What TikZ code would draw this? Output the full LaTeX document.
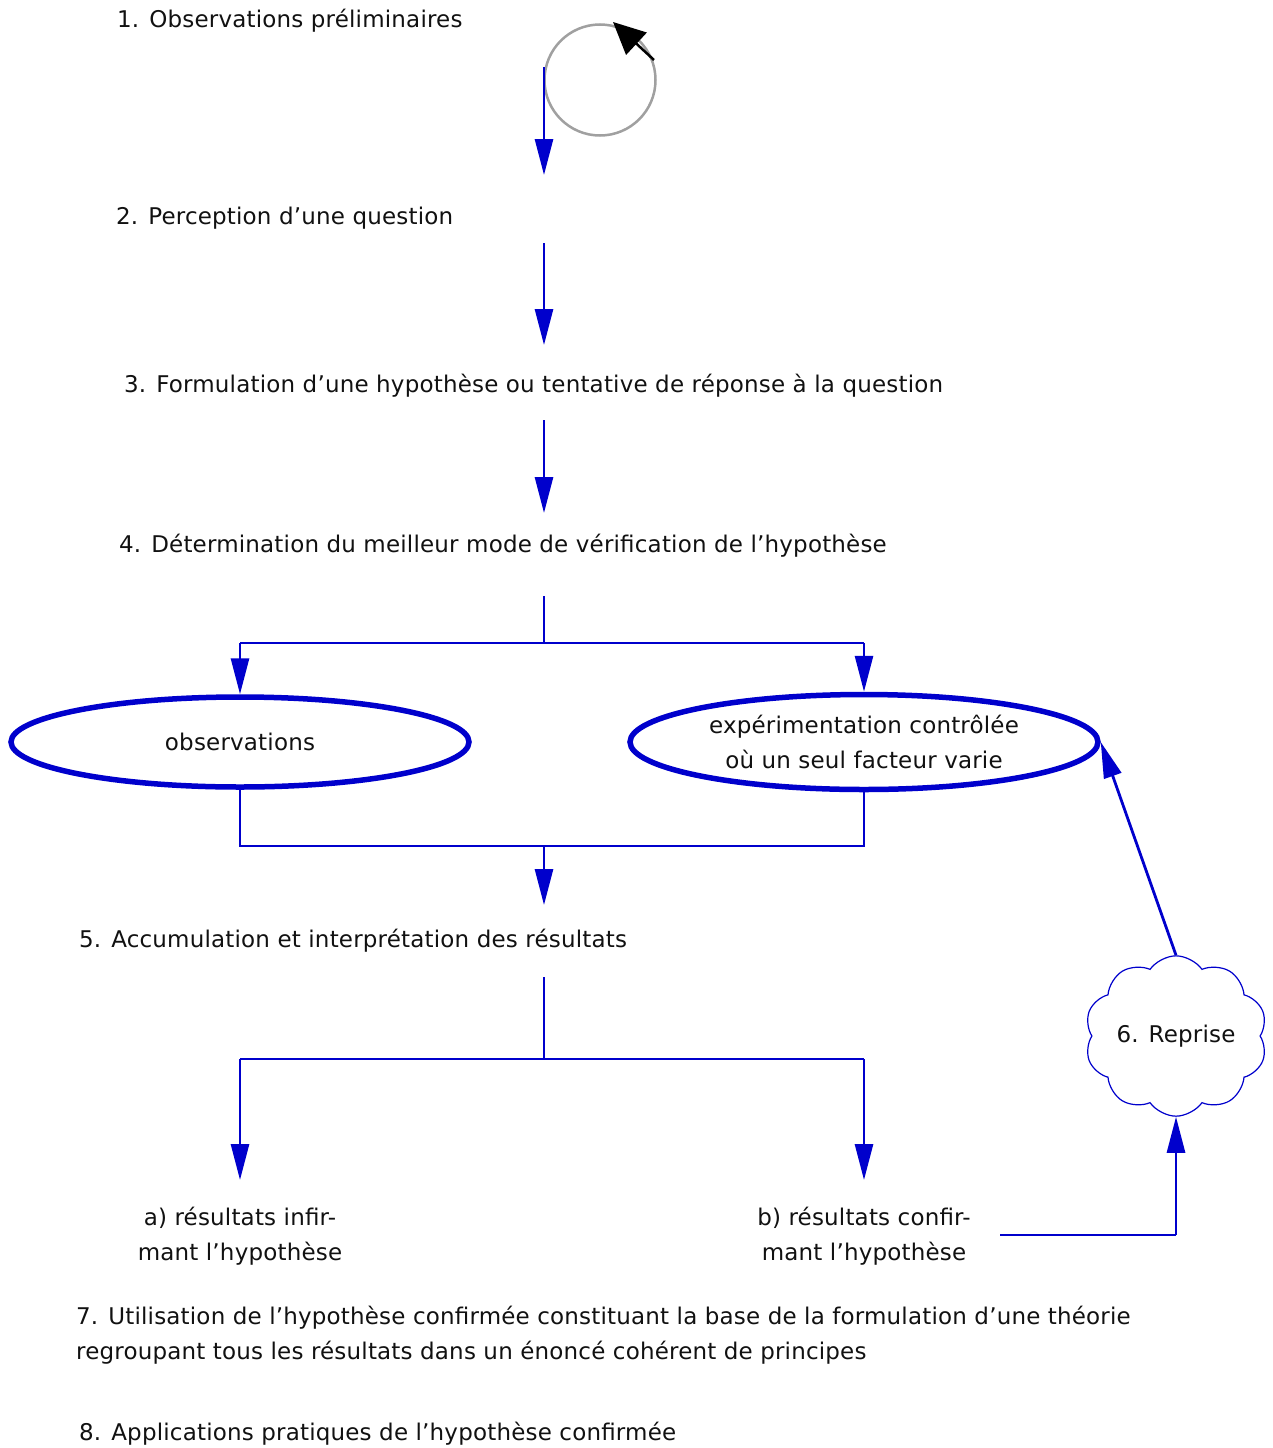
\documentclass[tikz,border=0pt]{standalone}
\usepackage{fontspec}
\setmainfont[LetterSpace=0.8]{DejaVu Sans}
\usetikzlibrary{arrows.meta,shapes.geometric,shapes.symbols}
\definecolor{lblue}{RGB}{0,0,204}
\definecolor{cgray}{RGB}{160,160,160}
\definecolor{txtc}{RGB}{17,17,17}
\begin{document}
\begin{tikzpicture}[x=1pt,y=-1pt,
  txt/.style={anchor=west,inner sep=0pt,align=left,text=txtc,font=\fontsize{23}{35}\selectfont},
  ctxt/.style={inner sep=0pt,align=center,text=txtc,font=\fontsize{23}{35}\selectfont},
  conn/.style={draw=lblue,line width=2.8pt},
  arr/.style={conn,-{Triangle[length=36pt,width=18pt]}},
  oval/.style={ellipse,draw=lblue,line width=5.5pt,inner sep=0pt,align=center,text=txtc,font=\fontsize{23}{35}\selectfont},
]
\useasboundingbox (0,0) rectangle (1272,1448);

% texts
\node[txt] (t1) at (117,21) {1. Observations préliminaires};
\node[txt] (t2) at (116,218) {2. Perception d’une question};
\node[txt] (t3) at (124,386) {3. Formulation d’une hypothèse ou tentative de réponse à la question};
\node[txt] (t4) at (119,546) {4. Détermination du meilleur mode de vérification de l’hypothèse};
\node[txt] (t5) at (79,941) {5. Accumulation et interprétation des résultats};
\node[ctxt] (ta) at (240,1236) {a) résultats infir-\\mant l’hypothèse};
\node[ctxt] (tb) at (864,1236) {b) résultats confir-\\mant l’hypothèse};
\node[txt] (t7) at (76,1335) {7. Utilisation de l’hypothèse confirmée constituant la base de la formulation d’une théorie\\regroupant tous les résultats dans un énoncé cohérent de principes};
\node[txt] (t8) at (79,1434) {8. Applications pratiques de l’hypothèse confirmée};

% ellipses
\node[oval,minimum width=458pt,minimum height=90pt] (ol) at (240,742) {observations};
\node[oval,minimum width=468pt,minimum height=95pt] (er) at (864,742) {expérimentation contrôlée\\où un seul facteur varie};

% cloud
\node[cloud,cloud puffs=10,cloud puff arc=110,cloud ignores aspect=false,aspect=1.2,draw=lblue,line width=1.2pt,minimum width=150pt,minimum height=115pt,inner sep=0pt,text=txtc,font=\fontsize{23}{35}\selectfont] (cl) at (1176,1036) {6. Reprise};

% cycle symbol
\node[circle,draw=cgray,line width=2.5pt,minimum size=111pt,inner sep=0pt] (cyc) at (600,80) {};
\coordinate (bs) at (654,60);
\coordinate (bt) at (613,22);
\draw[line width=2.5pt,-{Triangle[length=32pt,width=30pt]}] (bs) -- (bt);

% coordinates
\coordinate (p1a) at (544,67);  \coordinate (p1b) at (544,175);
\coordinate (p2a) at (544,243); \coordinate (p2b) at (544,345);
\coordinate (p3a) at (544,420); \coordinate (p3b) at (544,513);
\coordinate (p4a) at (544,596); \coordinate (j4) at (544,643);
\coordinate (j4l) at (240,643); \coordinate (j4r) at (864,643);
\coordinate (m5l) at (240,846); \coordinate (m5r) at (864,846);
\coordinate (m5) at (544,846);  \coordinate (p5b) at (544,905);
\coordinate (p5a) at (544,977); \coordinate (j6) at (544,1059);
\coordinate (j6l) at (240,1059); \coordinate (j6r) at (864,1059);
\coordinate (qa) at (240,1180); \coordinate (qb) at (864,1180);
\coordinate (rb1) at (1000,1235); \coordinate (rb2) at (1176,1235);

% connectors
\draw[arr] (p1a) -- (p1b);
\draw[arr] (p2a) -- (p2b);
\draw[arr] (p3a) -- (p3b);
\draw[conn] (p4a) -- (j4);
\draw[conn] (j4l) -- (j4r);
\draw[arr] (j4l) -- (ol.north);
\draw[arr] (j4r) -- (er.north);
\draw[conn] (ol.south) -- (m5l) -- (m5r) -- (er.south);
\draw[arr] (m5) -- (p5b);
\draw[conn] (p5a) -- (j6);
\draw[conn] (j6l) -- (j6r);
\draw[arr] (j6l) -- (qa);
\draw[arr] (j6r) -- (qb);
\draw[conn] (rb1) -- (rb2);
\draw[arr] (rb2) -- (cl.south);
\draw[arr] (cl.north) -- (er.east);
\end{tikzpicture}
\end{document}
